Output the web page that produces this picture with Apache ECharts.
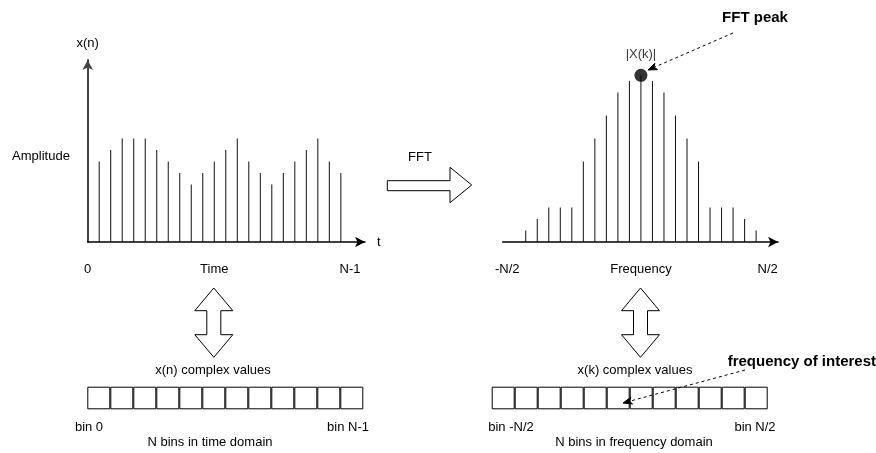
<!DOCTYPE html>
<html>
<head>
<meta charset="utf-8">
<script src="https://cdn.jsdelivr.net/npm/echarts@6/dist/echarts.min.js"></script>
<style>
html,body{margin:0;padding:0;background:#fff;}
#chart{width:876px;height:453px;}
</style>
</head>
<body>
<div id="chart"></div>
<script>
// ---- data ----
const timeValues = [7, 8, 9, 9, 9, 8, 7, 6, 5, 6, 7, 8, 9, 7, 6, 5, 6, 7, 8, 9, 7, 6];
const freqValues = [1, 2, 3, 3, 3, 7, 9, 11, 13, 14, 14.5, 14, 13, 11, 9, 7, 3, 3, 3, 2, 1];
const timeTickLabels = ['0', 'Time', 'N-1'];
const timeTickAt = [0, 11, 22.8];
const freqTickLabels = ['-N/2', 'Frequency', 'N/2'];
const freqTickAt = [0.4, 12, 23];
const timeBins = ['0', '1', '2', '3', '4', '5', '6', '7', '8', '9', '10', '11'];
const freqBins = ['-6', '-5', '-4', '-3', '-2', '-1', '0', '1', '2', '3', '4', '5'];
const binFill = [1, 1, 1, 1, 1, 1, 1, 1, 1, 1, 1, 1];

const FONT = '"Liberation Sans", Arial, Helvetica, sans-serif';
const FS = 13;
const FSB = 15;

const timeData = timeValues.map((v, i) => [i + 1, v]);
const freqData = freqValues.map((v, i) => [i + 2, v]);
let peakIdx = 0;
freqValues.forEach((v, i) => { if (v > freqValues[peakIdx]) peakIdx = i; });
const peakPoint = [peakIdx + 2, freqValues[peakIdx]];

const chart = echarts.init(document.getElementById('chart'), null, {renderer: 'canvas'});

function txt(text, x, y, opts) {
  return {
    type: 'text', silent: true, z: 100,
    style: Object.assign({
      text: text, x: x, y: y, align: 'center', verticalAlign: 'middle',
      fontSize: FS, fontFamily: FONT, fill: '#000'
    }, opts || {})
  };
}
function dblArrow(cx) {
  return {
    type: 'polygon', silent: true, z: 100,
    shape: { points: [
      [cx, 288], [cx + 19, 310.7], [cx + 7, 310.7], [cx + 7, 334.7], [cx + 19, 334.7],
      [cx, 357.3], [cx - 19, 334.7], [cx - 7, 334.7], [cx - 7, 310.7], [cx - 19, 310.7]
    ]},
    style: { fill: '#fff', stroke: '#000', lineWidth: 1 }
  };
}
function dashedArrow(x1, y1, x2, y2) {
  const ang = Math.atan2(y2 - y1, x2 - x1);
  const L = 9, W = 3.5, notch = 6.5;
  const ca = Math.cos(ang), sa = Math.sin(ang);
  const bx = x2 - L * ca, by = y2 - L * sa;
  const nx = x2 - notch * ca, ny = y2 - notch * sa;
  return [
    { type: 'line', silent: true, z: 100,
      shape: { x1: x1, y1: y1, x2: nx, y2: ny },
      style: { stroke: '#000', lineWidth: 1, lineDash: [3, 3] } },
    { type: 'polygon', silent: true, z: 100,
      shape: { points: [[x2, y2], [bx - W * sa, by + W * ca], [nx, ny], [bx + W * sa, by - W * ca]] },
      style: { fill: '#000', stroke: '#000', lineWidth: 1 } }
  ];
}

const graphics = [
  txt('Amplitude', 41, 156),
  txt('FFT', 420, 157),
  { type: 'polygon', silent: true, z: 100,
    shape: { points: [[387.3, 180.7], [450, 180.7], [450, 167.3], [471.7, 185], [450, 202.7], [450, 190.7], [387.3, 190.7]] },
    style: { fill: '#fff', stroke: '#000', lineWidth: 1 } },
  txt('FFT peak', 755, 18, { fontWeight: 'bold', fontSize: FSB }),
  dblArrow(213.8),
  dblArrow(640.5),
  txt('x(n) complex values', 213, 370),
  txt('x(k) complex values', 635, 370),
  txt('bin 0', 89, 427),
  txt('bin N-1', 348, 427),
  txt('N bins in time domain', 210, 442),
  txt('bin -N/2', 511, 427),
  txt('bin N/2', 755, 427),
  txt('N bins in frequency domain', 634, 442),
  txt('frequency of interest', 876, 362, { align: 'right', fontWeight: 'bold', fontSize: FSB })
].concat(dashedArrow(733, 33, 648, 70)).concat(dashedArrow(745, 370, 623, 403));

const option = {
  animation: false,
  backgroundColor: '#fff',
  textStyle: { fontFamily: FONT },
  grid: [
    { left: 87.7, top: 60, width: 277.3, height: 182, outerBoundsMode: 'none' },
    { left: 502.7, top: 60, width: 275.3, height: 182, outerBoundsMode: 'none' },
    { left: 87.3, top: 386.7, width: 276, height: 22.6, outerBoundsMode: 'none' },
    { left: 491.7, top: 386.7, width: 276, height: 22.6, outerBoundsMode: 'none' }
  ],
  xAxis: [
    { gridIndex: 0, type: 'value', min: 0, max: 24.1,
      name: 't', nameLocation: 'end', nameGap: 12,
      nameTextStyle: { fontSize: FS, color: '#000', fontFamily: FONT },
      axisLine: { show: true, onZero: false, symbol: ['none', 'arrow'], symbolSize: [8, 10],
        lineStyle: { color: '#000', width: 1.5 } },
      axisTick: { show: false }, splitLine: { show: false },
      axisLabel: { show: true, customValues: timeTickAt, margin: 21, fontSize: FS, color: '#000', fontFamily: FONT,
        formatter: v => timeTickLabels[timeTickAt.indexOf(v)] } },
    { gridIndex: 1, type: 'value', min: 0, max: 23.9,
      axisLine: { show: true, onZero: false, symbol: ['none', 'arrow'], symbolSize: [8, 10],
        lineStyle: { color: '#000', width: 1.5 } },
      axisTick: { show: false }, splitLine: { show: false },
      axisLabel: { show: true, customValues: freqTickAt, margin: 21, fontSize: FS, color: '#000', fontFamily: FONT,
        formatter: v => freqTickLabels[freqTickAt.indexOf(v)] } },
    { gridIndex: 2, type: 'category', data: timeBins, show: false },
    { gridIndex: 3, type: 'category', data: freqBins, show: false }
  ],
  yAxis: [
    { gridIndex: 0, type: 'value', min: 0, max: 15.83,
      name: 'x(n)', nameLocation: 'end', nameGap: 10,
      nameTextStyle: { fontSize: FS, color: '#000', fontFamily: FONT },
      axisLine: { show: true, symbol: ['none', 'arrow'], symbolSize: [8, 10],
        lineStyle: { color: '#444', width: 2 } },
      axisTick: { show: false }, splitLine: { show: false }, axisLabel: { show: false } },
    { gridIndex: 1, type: 'value', min: 0, max: 15.83, show: false, splitLine: { show: false } },
    { gridIndex: 2, type: 'value', min: 0, max: 1, show: false, splitLine: { show: false } },
    { gridIndex: 3, type: 'value', min: 0, max: 1, show: false, splitLine: { show: false } }
  ],
  series: [
    { type: 'bar', xAxisIndex: 0, yAxisIndex: 0, data: timeData, barWidth: 1,
      itemStyle: { color: '#111' }, silent: true },
    { type: 'bar', xAxisIndex: 1, yAxisIndex: 1, data: freqData, barWidth: 1,
      itemStyle: { color: '#111' }, silent: true },
    { type: 'scatter', xAxisIndex: 1, yAxisIndex: 1, data: [peakPoint], symbolSize: 13,
      itemStyle: { color: '#000' }, silent: true, z: 5,
      label: { show: true, position: 'top', distance: 8, formatter: '|X(k)|',
        fontSize: FS, color: '#000', fontFamily: FONT } },
    { type: 'bar', xAxisIndex: 2, yAxisIndex: 2, data: binFill, barWidth: '100%', barCategoryGap: 0,
      itemStyle: { color: '#fff', borderColor: '#000', borderWidth: 1 }, silent: true },
    { type: 'bar', xAxisIndex: 3, yAxisIndex: 3, data: binFill, barWidth: '100%', barCategoryGap: 0,
      itemStyle: { color: '#fff', borderColor: '#000', borderWidth: 1 }, silent: true }
  ],
  graphic: graphics
};
chart.setOption(option);
</script>
</body>
</html>
